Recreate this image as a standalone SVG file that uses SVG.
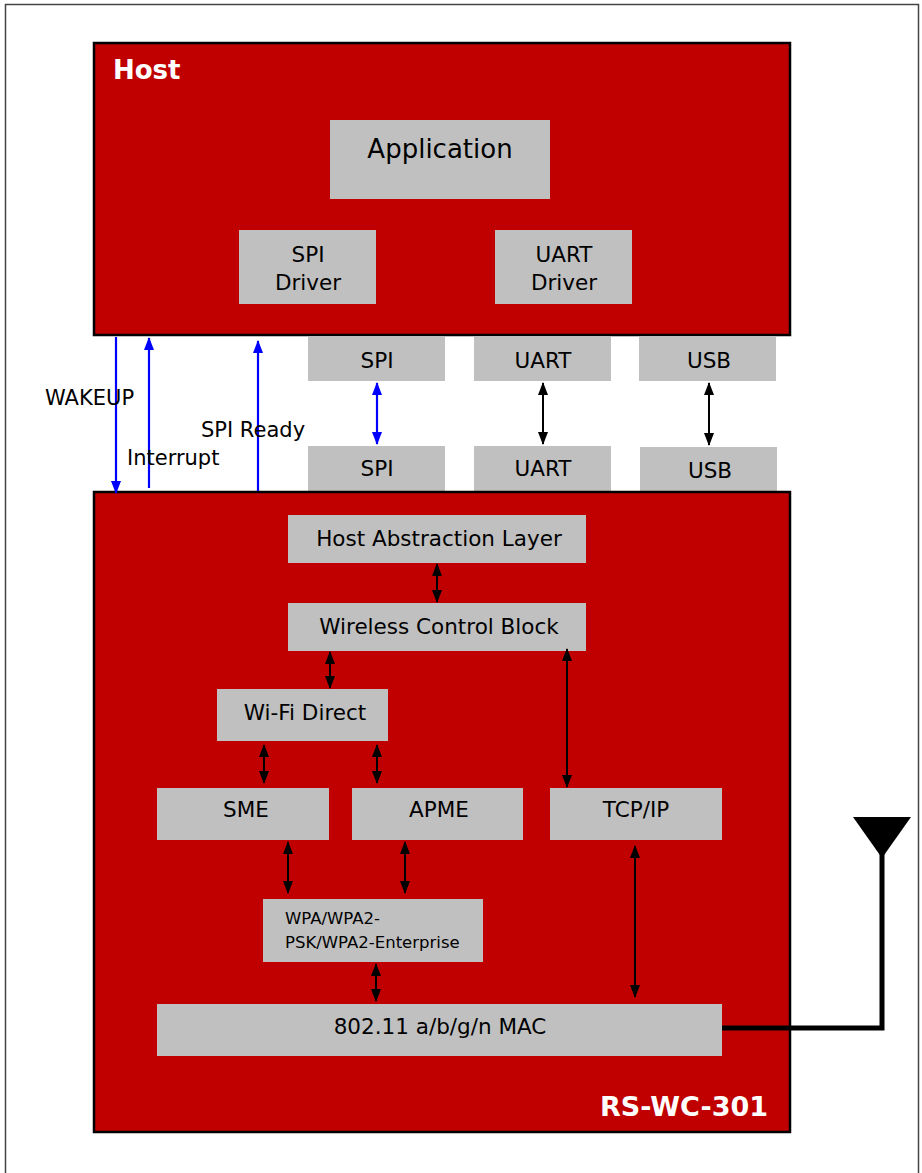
<svg xmlns="http://www.w3.org/2000/svg" width="922" height="1173" viewBox="0 0 922 1173">
<style>
.blk{fill:#C00000;stroke:#000;stroke-width:2.5}
.box{fill:#C0C0C0}
.t{font-family:"DejaVu Sans",Verdana,sans-serif;font-size:21.5px;fill:#000;text-anchor:middle}
.lbl{font-family:"DejaVu Sans",Verdana,sans-serif;font-size:21px;fill:#000}
.title{font-family:"DejaVu Sans",Verdana,sans-serif;font-size:26px;font-weight:bold;fill:#fff}
.k{stroke:#000;stroke-width:2;fill:none}
.b{stroke:#0000FF;stroke-width:2.2;fill:none}
</style>
<defs>
<marker id="ak" viewBox="0 0 13 10" refX="12" refY="5" markerWidth="13" markerHeight="10" markerUnits="userSpaceOnUse" orient="auto-start-reverse"><path d="M0,0 L13,5 L0,10 z" fill="#000"/></marker>
<marker id="ab" viewBox="0 0 13 10" refX="12" refY="5" markerWidth="13" markerHeight="10" markerUnits="userSpaceOnUse" orient="auto-start-reverse"><path d="M0,0 L13,5 L0,10 z" fill="#0000FF"/></marker>
</defs>
<rect x="0" y="0" width="922" height="1173" fill="#fff"/>
<rect x="5.5" y="4.5" width="913" height="1185" fill="none" stroke="#444" stroke-width="1.5"/>

<g id="host">
<rect class="blk" x="94" y="43" width="696" height="292"/>
<text class="title" x="113" y="79">Host</text>
</g>
<g id="application"><rect class="box" x="330" y="120" width="220" height="79"/><text class="t" x="440" y="158" style="font-size:26px">Application</text></g>
<g id="spi-driver"><rect class="box" x="239" y="230" width="137" height="74"/><text class="t" x="308" y="262">SPI</text><text class="t" x="308" y="290">Driver</text></g>
<g id="uart-driver"><rect class="box" x="495" y="230" width="137" height="74"/><text class="t" x="564" y="262">UART</text><text class="t" x="564" y="290">Driver</text></g>

<g id="spi-top"><rect class="box" x="308" y="337" width="137" height="44"/><text class="t" x="377" y="368">SPI</text></g>
<g id="uart-top"><rect class="box" x="474" y="337" width="137" height="44"/><text class="t" x="543" y="368">UART</text></g>
<g id="usb-top"><rect class="box" x="639" y="337" width="137" height="44"/><text class="t" x="709" y="368">USB</text></g>
<g id="spi-bot"><rect class="box" x="308" y="446" width="137" height="45"/><text class="t" x="377" y="476">SPI</text></g>
<g id="uart-bot"><rect class="box" x="474" y="446" width="137" height="45"/><text class="t" x="543" y="476">UART</text></g>
<g id="usb-bot"><rect class="box" x="640" y="447" width="137" height="44"/><text class="t" x="710" y="478">USB</text></g>

<g id="module">
<rect class="blk" x="94" y="492" width="696" height="640"/>
<text class="title" x="768" y="1116" text-anchor="end" style="font-size:27px">RS-WC-301</text>
</g>
<g id="hal"><rect class="box" x="288" y="515" width="298" height="48"/><text class="t" x="439" y="546">Host Abstraction Layer</text></g>
<g id="wcb"><rect class="box" x="288" y="603" width="298" height="48"/><text class="t" x="439" y="634">Wireless Control Block</text></g>
<g id="wifi-direct"><rect class="box" x="217" y="689" width="171" height="52"/><text class="t" x="305" y="720">Wi-Fi Direct</text></g>
<g id="sme"><rect class="box" x="157" y="788" width="172" height="52"/><text class="t" x="246" y="817">SME</text></g>
<g id="apme"><rect class="box" x="352" y="788" width="171" height="52"/><text class="t" x="439" y="817">APME</text></g>
<g id="tcpip"><rect class="box" x="550" y="788" width="172" height="52"/><text class="t" x="636" y="817">TCP/IP</text></g>
<g id="wpa"><rect class="box" x="263" y="899" width="220" height="63"/><text class="lbl" x="285" y="924" style="font-size:16.5px">WPA/WPA2-</text><text class="lbl" x="285" y="948" style="font-size:16.5px">PSK/WPA2-Enterprise</text></g>
<g id="mac"><rect class="box" x="157" y="1004" width="565" height="52"/><text class="t" x="440" y="1034">802.11 a/b/g/n MAC</text></g>

<g id="antenna">
<polyline points="722,1028 882,1028 882,852" fill="none" stroke="#000" stroke-width="5"/>
<polygon points="853,817 911,817 882,858" fill="#000"/>
</g>

<g id="connectors">
<line class="b" x1="116" y1="337" x2="116" y2="493" marker-end="url(#ab)"/>
<line class="b" x1="149" y1="488" x2="149" y2="338" marker-end="url(#ab)"/>
<line class="b" x1="258" y1="491" x2="258" y2="341" marker-end="url(#ab)"/>
<line class="b" x1="377" y1="383" x2="377" y2="444" marker-start="url(#ab)" marker-end="url(#ab)"/>
<line class="k" x1="543" y1="383" x2="543" y2="444" marker-start="url(#ak)" marker-end="url(#ak)"/>
<line class="k" x1="709" y1="383" x2="709" y2="445" marker-start="url(#ak)" marker-end="url(#ak)"/>
<line class="k" x1="437" y1="564" x2="437" y2="602" marker-start="url(#ak)" marker-end="url(#ak)"/>
<line class="k" x1="330" y1="652" x2="330" y2="688" marker-start="url(#ak)" marker-end="url(#ak)"/>
<line class="k" x1="567" y1="649" x2="567" y2="787" marker-start="url(#ak)" marker-end="url(#ak)"/>
<line class="k" x1="264" y1="745" x2="264" y2="783" marker-start="url(#ak)" marker-end="url(#ak)"/>
<line class="k" x1="377" y1="745" x2="377" y2="783" marker-start="url(#ak)" marker-end="url(#ak)"/>
<line class="k" x1="288" y1="842" x2="288" y2="893" marker-start="url(#ak)" marker-end="url(#ak)"/>
<line class="k" x1="405" y1="842" x2="405" y2="893" marker-start="url(#ak)" marker-end="url(#ak)"/>
<line class="k" x1="635" y1="846" x2="635" y2="997" marker-start="url(#ak)" marker-end="url(#ak)"/>
<line class="k" x1="376" y1="964" x2="376" y2="1001" marker-start="url(#ak)" marker-end="url(#ak)"/>
<text class="lbl" x="45" y="405">WAKEUP</text>
<text class="lbl" x="127" y="465">Interrupt</text>
<text class="lbl" x="201" y="437">SPI Ready</text>
</g>
</svg>
